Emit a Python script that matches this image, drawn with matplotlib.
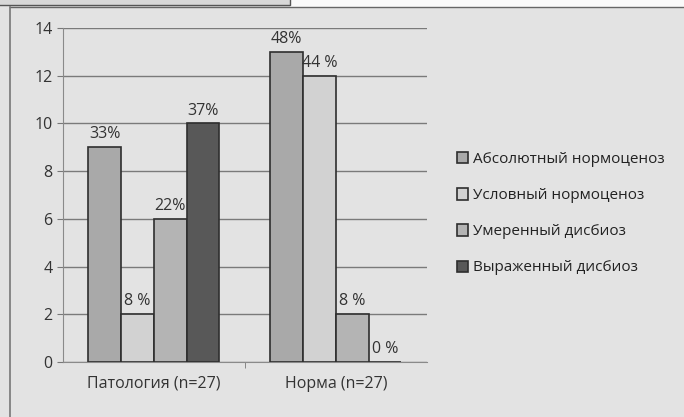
import matplotlib.pyplot as plt
import numpy as np
from matplotlib.patches import Rectangle
from matplotlib.lines import Line2D

plt.rcParams['font.family'] = ['Open Sans', 'DejaVu Sans']

groups = ["Патология (n=27)", "Норма (n=27)"]
series = ["Абсолютный нормоценоз", "Условный нормоценоз",
          "Умеренный дисбиоз", "Выраженный дисбиоз"]
values = [
    [9, 13],
    [2, 12],
    [6, 2],
    [10, 0],
]
labels = [
    ["33%", "48%"],
    ["8 %", "44 %"],
    ["22%", "8 %"],
    ["37%", "0 %"],
]
colors = ["#a9a9a9", "#d2d2d2", "#b4b4b4", "#585858"]

bg = "#e3e3e3"
fig = plt.figure(figsize=(6.84, 4.17), dpi=100, facecolor=bg)

# scanned page frame around the chart
fig.patches.append(Rectangle((0, 0.988), 0.424, 0.012, transform=fig.transFigure,
                             facecolor="#d8d8d8", edgecolor="none"))
fig.patches.append(Rectangle((0.424, 0.983), 0.576, 0.017, transform=fig.transFigure,
                             facecolor="#fafafa", edgecolor="none"))
fig.lines.append(Line2D([0, 0.424, 0.424], [0.988, 0.988, 1.0], transform=fig.transFigure,
                        color="#555555", lw=1))
fig.lines.append(Line2D([0.015, 1.0], [0.983, 0.983], transform=fig.transFigure,
                        color="#666666", lw=1))
fig.lines.append(Line2D([0.015, 0.015], [0.0, 0.983], transform=fig.transFigure,
                        color="#777777", lw=1.2))

ax = fig.add_axes([0.092, 0.132, 0.532, 0.801])
ax.set_facecolor(bg)

x = np.arange(len(groups))
width = 0.18
for i, (name, vals, col) in enumerate(zip(series, values, colors)):
    pos = x + (i - 1.5) * width
    ax.bar(pos, vals, width, color=col, edgecolor="#2e2e2e", linewidth=1.2,
           label=name, zorder=3)
    for p, v, t in zip(pos, vals, labels[i]):
        ax.text(p, v + 0.2, t, ha="center", va="bottom", fontsize=11.5,
                color="#333333", zorder=4)

ax.set_ylim(0, 14)
ax.set_xlim(-0.5, 1.5)
ax.set_yticks(range(0, 15, 2))
ax.set_xticks(x)
ax.set_xticks([0.5], minor=True)
ax.set_xticklabels(groups, fontsize=11.5, color="#333333")
ax.tick_params(axis="y", labelsize=11.5, colors="#333333", length=4, color="#777777")
ax.tick_params(axis="x", which="major", length=0, pad=10)
ax.tick_params(axis="x", which="minor", length=4, color="#777777")
ax.grid(axis="y", color="#7a7a7a", linewidth=1, zorder=0)
for s in ["top", "right"]:
    ax.spines[s].set_visible(False)
ax.spines["left"].set_color("#8a8a8a")
ax.spines["bottom"].set_color("#8a8a8a")

leg = fig.legend(loc="upper left", bbox_to_anchor=(0.648, 0.668), frameon=False,
                 fontsize=11, handlelength=0.75, handleheight=0.75,
                 handletextpad=0.3, labelspacing=1.38, labelcolor="#222222")

fig.savefig("out.png", dpi=100, facecolor=bg)
